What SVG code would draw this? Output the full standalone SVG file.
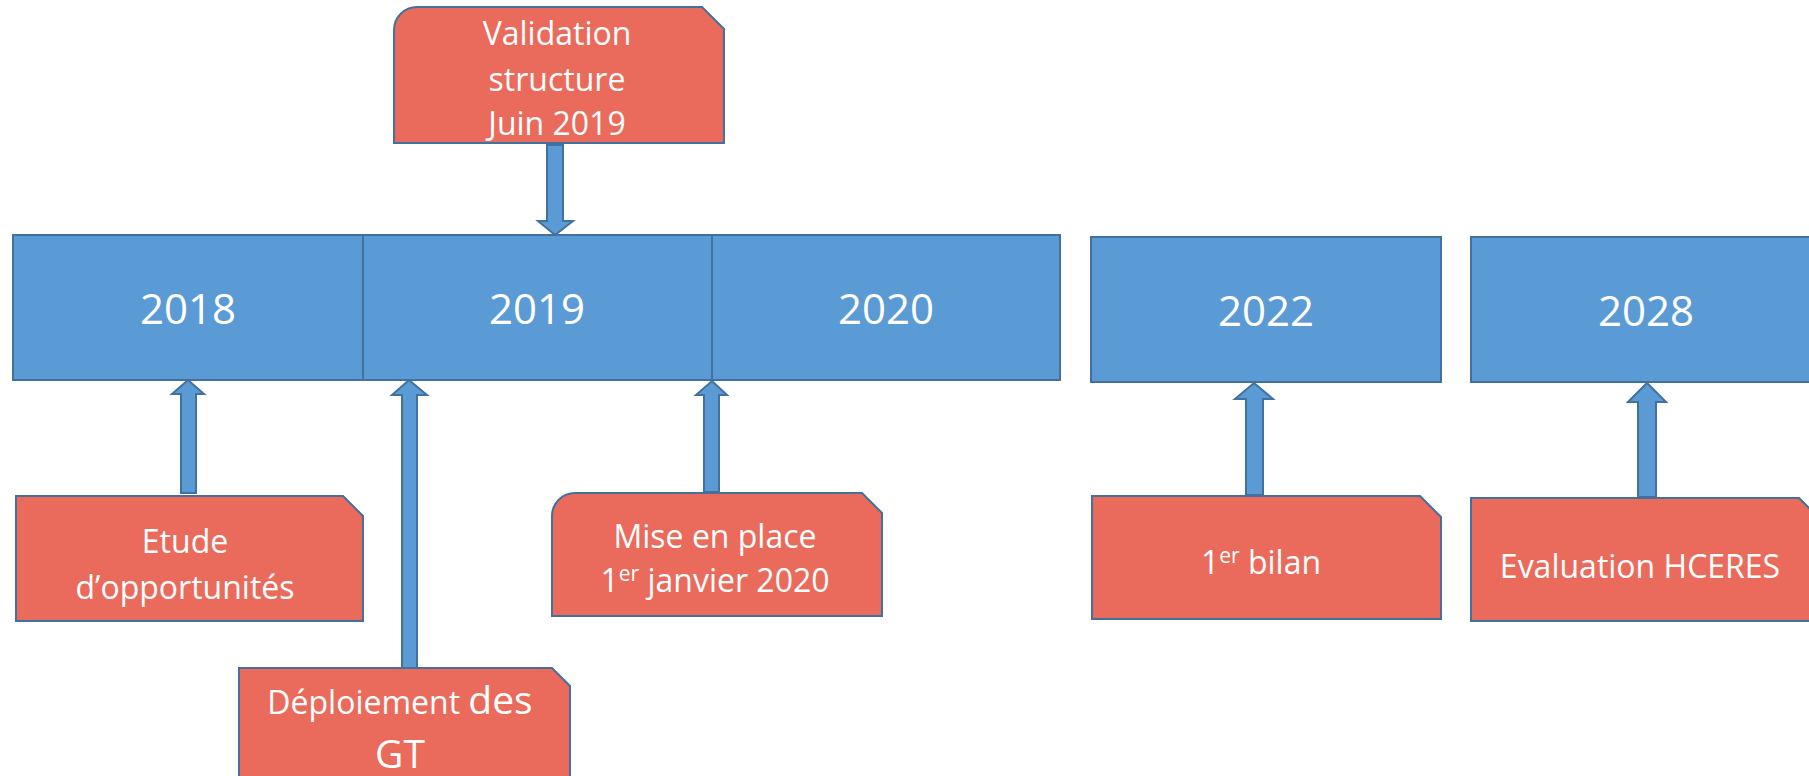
<svg xmlns="http://www.w3.org/2000/svg" width="1809" height="776" viewBox="0 0 1809 776">
<style>
.yr{fill:#5B9BD5;stroke:#41719C;stroke-width:2}
.ev{fill:#EA6B5C;stroke:#41719C;stroke-width:2}
.ar{fill:#5B9BD5;stroke:#41719C;stroke-width:2;stroke-linejoin:miter}
text{font-family:"Open Sans","Noto Sans","Liberation Sans",sans-serif;fill:#FFFFFF;text-anchor:middle}
.y{font-size:42px}
.t{font-size:32px}
</style>
<rect width="1809" height="776" fill="#FFFFFF"/>
<g id="connectors">
<polygon class="ar" points="181,493 181,394 172,394 188,380 204,394 196,394 196,493"/>
<polygon class="ar" points="402,668 402,395 392,395 409,380 427,395 417,395 417,668"/>
<polygon class="ar" points="704,492 704,395 696,395 712,381 727,395 719,395 719,492"/>
<polygon class="ar" points="1246,495 1246,399 1235,399 1254,383 1273,399 1263,399 1263,495"/>
<polygon class="ar" points="1638,497 1638,402 1628,402 1647,383 1666,402 1656,402 1656,497"/>
<polygon class="ar" points="547,145 547,221 538,221 555,235 573,221 563,221 563,145"/>
</g>
<g id="y2018"><rect class="yr" x="13" y="235" width="350" height="145"/><text class="y" x="188" y="324">2018</text></g>
<g id="y2019"><rect class="yr" x="363" y="235" width="349" height="145"/><text class="y" x="537" y="324">2019</text></g>
<g id="y2020"><rect class="yr" x="712" y="235" width="348" height="145"/><text class="y" x="886" y="324">2020</text></g>
<g id="y2022"><rect class="yr" x="1091" y="237" width="350" height="145"/><text class="y" x="1266" y="326">2022</text></g>
<g id="y2028"><rect class="yr" x="1471" y="237" width="350" height="145"/><text class="y" x="1646" y="326">2028</text></g>
<g id="validation"><path class="ev" d="M394,30 A23,23 0 0 1 417,7 H702 L724,29 V143 H394 Z"/>
<text class="t" x="557" y="45">Validation</text><text class="t" x="557" y="91">structure</text><text class="t" x="557" y="135">Juin 2019</text></g>
<g id="etude"><path class="ev" d="M16,496 H343 L363,516 V621 H16 Z"/>
<text class="t" x="185" y="553">Etude</text><text class="t" x="185" y="599">d’opportunités</text></g>
<g id="deploiement"><path class="ev" d="M239,668 H552 L570,686 V790 H239 Z"/>
<text class="t" x="400" y="714">Déploiement <tspan font-size="39">des</tspan></text><text x="400" y="768" font-size="39">GT</text></g>
<g id="mise"><path class="ev" d="M552,516 A23,23 0 0 1 575,493 H862 L882,513 V616 H552 Z"/>
<text class="t" x="715" y="548">Mise en place</text><text class="t" x="715" y="592">1<tspan font-size="21" dy="-11">er</tspan><tspan dy="11"> janvier 2020</tspan></text></g>
<g id="bilan"><path class="ev" d="M1092,496 H1420 L1441,517 V619 H1092 Z"/>
<text class="t" x="1261" y="574">1<tspan font-size="21" dy="-11">er</tspan><tspan dy="11"> bilan</tspan></text></g>
<g id="hceres"><path class="ev" d="M1471,498 H1799 L1820,519 V621 H1471 Z"/>
<text class="t" x="1640" y="578">Evaluation HCERES</text></g>
</svg>
